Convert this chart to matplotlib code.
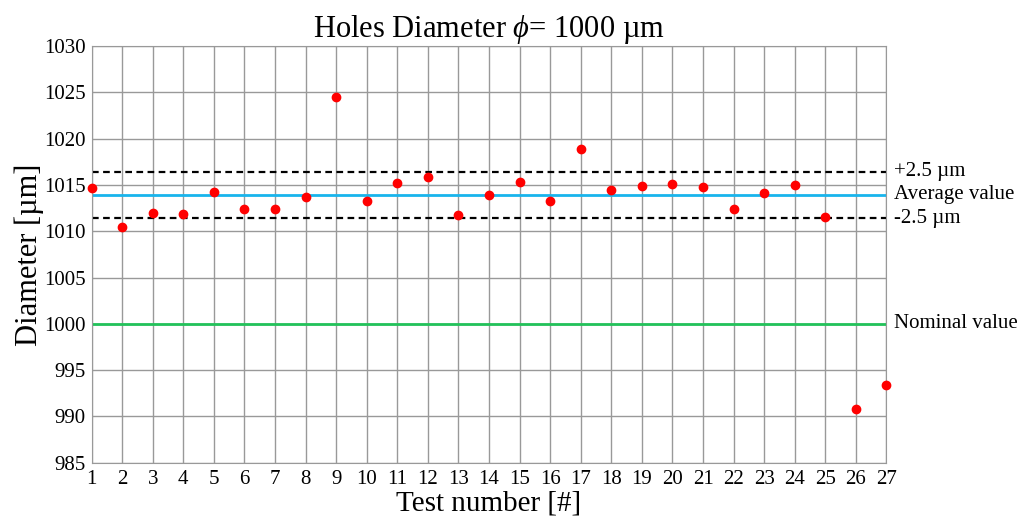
import matplotlib
matplotlib.use('Agg')
import matplotlib.pyplot as plt

plt.rcParams['font.family'] = ['Liberation Serif', 'DejaVu Serif']
plt.rcParams['mathtext.fontset'] = 'custom'
plt.rcParams['mathtext.rm'] = 'Liberation Serif'
plt.rcParams['mathtext.it'] = 'Liberation Serif:italic'

# measured hole diameters
tests = list(range(1, 28))
diameters = [1014.65, 1010.47, 1011.98, 1011.88, 1014.29, 1012.45, 1012.42, 1013.75, 1024.53,
             1013.31, 1015.19, 1015.87, 1011.80, 1013.93, 1015.36, 1013.25, 1018.85, 1014.43,
             1014.90, 1015.11, 1014.76, 1012.45, 1014.18, 1015.00, 1011.52, 990.84, 993.43]
nominal = 1000
average = 1013.93
tolerance = 2.5
y_ticks = list(range(985, 1031, 5))

fig = plt.figure(figsize=(10.32, 5.2), dpi=100)
ax = fig.add_axes([0.0887, 0.110, 0.7703, 0.8015])

ax.axhline(nominal, color='#22c25a', lw=2, zorder=2)
ax.axhline(average, color='#18b4ec', lw=2, zorder=2)
ax.axhline(average + tolerance, color='black', lw=1.6, ls=(0, (3, 2)), zorder=2)
ax.axhline(average - tolerance, color='black', lw=1.6, ls=(0, (3, 2)), zorder=2)
ax.plot(tests, diameters, 'o', color='#ff0000', ms=6, zorder=3, clip_on=False)

ax.set_xlim(1, 27)
ax.set_ylim(985, 1030)
ax.set_xticks(tests)
ax.set_yticks(y_ticks)
ax.grid(True, color='#999999', lw=1)
ax.set_axisbelow(True)
for s in ax.spines.values():
    s.set_color('#999999')
ax.tick_params(length=0, labelsize=15)
ax.tick_params(axis='x', pad=5)
ax.tick_params(axis='y', pad=4)

# line annotations on the right
lbl_x = 1.009
tr = ax.get_yaxis_transform()
ax.text(lbl_x, average + tolerance, '+2.5 µm', transform=tr, va='center', fontsize=15)
ax.text(lbl_x, average, 'Average value', transform=tr, va='center', fontsize=15)
ax.text(lbl_x, average - tolerance, '-2.5 µm', transform=tr, va='center', fontsize=15)
ax.text(lbl_x, nominal, 'Nominal value', transform=tr, va='center', fontsize=15)

ax.set_title(r'Holes Diameter $\mathit{\phi}$= 1000 µm', fontsize=22, pad=6)
ax.set_xlabel('Test number [#]', fontsize=21, labelpad=1)
ax.set_ylabel('Diameter [µm]', fontsize=22, labelpad=0)

fig.savefig('out.png', dpi=100)
